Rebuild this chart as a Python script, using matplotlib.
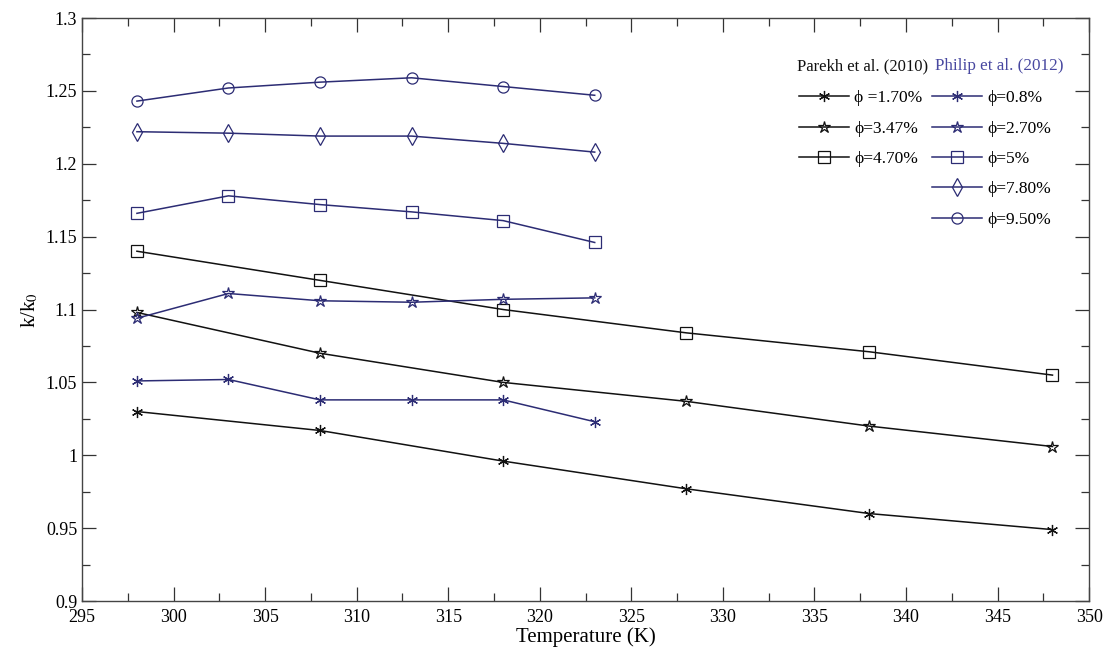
import matplotlib
matplotlib.use("Agg")
import matplotlib.pyplot as plt
from matplotlib.ticker import MultipleLocator
import numpy as np

plt.rcParams['font.family'] = ['Liberation Serif', 'DejaVu Serif']
plt.rcParams['mathtext.fontset'] = 'stix'

# Parekh et al. (2010)
temp_parekh = [298, 308, 318, 328, 338, 348]
parekh_170 = [1.030, 1.017, 0.996, 0.977, 0.960, 0.949]
parekh_347 = [1.098, 1.070, 1.050, 1.037, 1.020, 1.006]
parekh_470 = [1.140, 1.120, 1.100, 1.084, 1.071, 1.055]

# Philip et al. (2012)
temp_philip = [298, 303, 308, 313, 318, 323]
philip_08 = [1.051, 1.052, 1.038, 1.038, 1.038, 1.023]
philip_270 = [1.094, 1.111, 1.106, 1.105, 1.107, 1.108]
philip_5 = [1.166, 1.178, 1.172, 1.167, 1.161, 1.146]
philip_780 = [1.222, 1.221, 1.219, 1.219, 1.214, 1.208]
philip_950 = [1.243, 1.252, 1.256, 1.259, 1.253, 1.247]

parekh_labels = ['ϕ =1.70%', 'ϕ=3.47%', 'ϕ=4.70%']
philip_labels = ['ϕ=0.8%', 'ϕ=2.70%', 'ϕ=5%', 'ϕ=7.80%', 'ϕ=9.50%']

black = '#111111'
navy = '#2c2c74'
asterisk = (6, 2, 0)

fig = plt.figure(figsize=(11.11, 6.53), dpi=100)
ax = fig.add_axes([0.0738, 0.0796, 0.9065, 0.8928])

p_series = [parekh_170, parekh_347, parekh_470]
p_markers = [asterisk, '*', 's']
p_sizes = [8, 9, 8]
p_lines = []
for ys, m, ms, lab in zip(p_series, p_markers, p_sizes, parekh_labels):
    fc = black if m == asterisk else 'none'
    l, = ax.plot(temp_parekh, ys, color=black, lw=1.1, marker=m, ms=ms,
                 mfc=fc, mec=black, mew=0.9, label=lab)
    p_lines.append(l)

q_series = [philip_08, philip_270, philip_5, philip_780, philip_950]
q_markers = [asterisk, '*', 's', 'd', 'o']
q_sizes = [8, 9, 8, 9, 8]
q_lines = []
for ys, m, ms, lab in zip(q_series, q_markers, q_sizes, philip_labels):
    fc = navy if m == asterisk else 'none'
    l, = ax.plot(temp_philip, ys, color=navy, lw=1.1, marker=m, ms=ms,
                 mfc=fc, mec=navy, mew=0.9, label=lab)
    q_lines.append(l)

ax.set_xlim(295, 350)
ax.set_ylim(0.9, 1.3)
ax.xaxis.set_major_locator(MultipleLocator(5))
ax.xaxis.set_minor_locator(MultipleLocator(2.5))
ax.yaxis.set_major_locator(MultipleLocator(0.05))
ax.yaxis.set_minor_locator(MultipleLocator(0.025))
ax.set_yticks(np.arange(0.9, 1.301, 0.05))
ax.set_yticklabels(['0.9', '0.95', '1', '1.05', '1.1', '1.15', '1.2', '1.25', '1.3'])
ax.tick_params(which='both', direction='in', top=True, right=True,
               labelsize=13, color='#333333')
ax.tick_params(which='major', length=10, width=0.9)
ax.tick_params(which='minor', length=6, width=0.9)
ax.tick_params(axis='x', pad=6)
for s in ax.spines.values():
    s.set_color('#444444')
    s.set_linewidth(1.0)

ax.set_xlabel('Temperature (K)', fontsize=15, labelpad=1)
ax.set_ylabel('k/k$_0$', fontsize=15, labelpad=4)

fig.text(0.717, 0.899, 'Parekh et al. (2010)', fontsize=12, color=black,
         va='center', ha='left')
fig.text(0.842, 0.899, 'Philip et al. (2012)', fontsize=12.3, color='#4848a0',
         va='center', ha='left')

leg_kw = dict(loc='upper left', frameon=False, fontsize=12.5, handlelength=2.9,
              handletextpad=0.3, borderpad=0, borderaxespad=0, labelspacing=0.82)
leg1 = fig.legend(handles=p_lines, bbox_to_anchor=(0.719, 0.862), **leg_kw)
leg2 = fig.legend(handles=q_lines, bbox_to_anchor=(0.839, 0.862), **leg_kw)

fig.savefig('out.png', dpi=100)
